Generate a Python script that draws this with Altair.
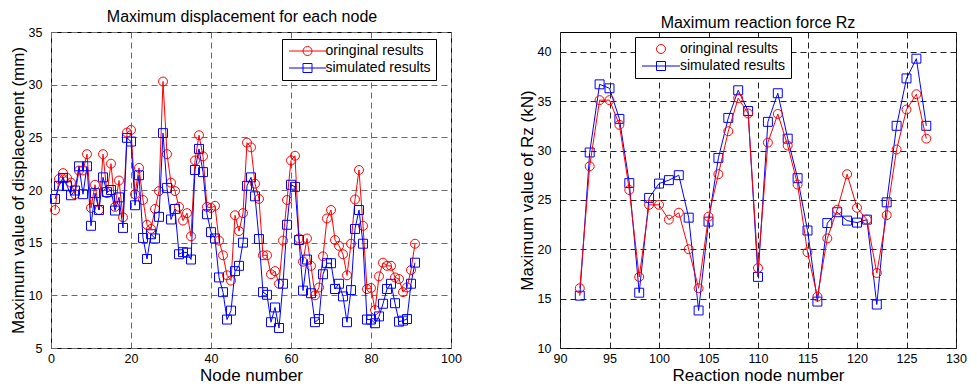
import altair as alt
import pandas as pd

FONT = "Liberation Sans"
RED = "#ff0000"
BLUE = "#0000ff"
SERIES = ["oringinal results", "simulated results"]

# ---- left panel data: maximum displacement per node ----
disp_nodes = list(range(1, 92))
disp_original = [
    18.1, 21.05, 21.6, 21.15, 20.7, 19.6, 21.85, 21.85, 23.4, 18.3,
    20.5, 18.1, 23.4, 19.7, 22.5, 18.4, 20.9, 17.4, 25.45, 25.7,
    19.6, 22.1, 19.05, 16.7, 16.3, 18.2, 19.9, 30.3, 23.4, 20.7,
    19.9, 18.4, 17.1, 17.8, 15.6, 22.8, 25.2, 23.2, 18.4, 18.3,
    18.5, 15.2, 13.8, 11.9, 11.4, 17.6, 16.1, 17.8, 24.5, 24.05,
    20.6, 19.15, 13.8, 13.8, 12.0, 12.3, 11.1, 15.2, 19.05, 22.8,
    23.25, 15.4, 13.2, 15.4, 12.8, 10.0, 10.75, 13.7, 17.3, 18.1,
    15.25, 14.7, 13.9, 11.9, 14.9, 19.1, 21.9, 16.6, 10.6, 10.7,
    8.6, 11.8, 13.1, 12.8, 12.8, 11.7, 11.55, 10.3, 10.75, 12.4,
    14.9,
]
disp_simulated = [
    19.15, 20.4, 21.15, 20.4, 19.5, 19.95, 22.25, 19.6, 22.25, 16.6,
    19.7, 18.1, 21.2, 19.8, 20.0, 18.05, 19.3, 16.4, 24.95, 24.6,
    18.55, 21.4, 15.45, 13.45, 15.8, 15.4, 17.45, 25.4, 20.2, 17.2,
    18.2, 13.9, 14.1, 14.05, 13.4, 21.9, 23.9, 21.7, 17.7, 16.0,
    15.4, 11.7, 10.3, 7.7, 8.55, 12.3, 12.8, 15.0, 20.4, 21.2,
    19.4, 15.35, 10.3, 10.05, 7.45, 8.85, 6.9, 11.1, 16.7, 20.5,
    20.3, 15.25, 10.45, 13.4, 10.2, 7.45, 7.75, 12.0, 13.05, 13.05,
    10.6, 11.1, 9.9, 7.45, 10.5, 16.3, 18.1, 14.9, 7.7, 7.7,
    7.35, 8.0, 9.2, 10.6, 11.1, 9.25, 7.5, 7.6, 7.75, 11.1,
    13.1,
]

# ---- right panel data: maximum reaction force Rz ----
rz_nodes = list(range(92, 128))
rz_original = [
    16.05, 28.4, 35.1, 35.1, 32.6, 26.0, 17.2, 24.5, 24.5, 23.0,
    23.7, 20.0, 16.05, 23.3, 27.6, 31.95, 35.3, 33.75, 18.1, 30.8,
    33.7, 30.5, 26.55, 19.7, 15.2, 21.1, 24.0, 27.6, 24.2, 23.0,
    17.6, 23.45, 30.1, 34.15, 35.7, 31.2,
]
rz_simulated = [
    15.3, 29.8, 36.7, 36.3, 33.2, 26.7, 15.6, 25.2, 26.65, 27.0,
    27.5, 23.2, 13.8, 22.8, 29.25, 33.3, 36.1, 34.0, 17.2, 32.9,
    35.8, 31.2, 27.2, 21.9, 14.7, 22.65, 23.75, 22.9, 22.7, 23.0,
    14.4, 24.75, 32.5, 37.3, 39.3, 32.5,
]

# legend symbol paths (unit box scaled by sqrt(symbolSize)/2)
CIRCLE = "M0.9,0A0.9,0.9,0,1,1,-0.9,0A0.9,0.9,0,1,1,0.9,0"
SQUARE = "M-0.9,-0.9H0.9V0.9H-0.9Z"
LINE = "M-3.7,0H3.7"


def axis(values, title, label_pad, title_pad, grid_color):
    return alt.Axis(
        values=values, title=title, grid=True, gridColor=grid_color,
        gridDash=[6, 4], gridWidth=1, ticks=False, domain=False,
        labelFont=FONT, labelFontSize=12.5, labelColor="black",
        labelPadding=label_pad, labelFlush=False, labelOverlap=False,
        titleFont=FONT, titleFontSize=17, titleFontWeight="normal",
        titleColor="black", titlePadding=title_pad,
    )


def panel(nodes, orig, sim, xdom, xticks, ydom, yticks, title, xtitle, ytitle,
          grid_color, paths, legend_kw, red_on_top, title_dx, width):
    df = pd.DataFrame({"node": nodes, "orig": orig, "sim": sim})
    base = alt.Chart(df)
    x = alt.X("node:Q", scale=alt.Scale(domain=xdom, nice=False, zero=False),
              axis=axis(xticks, xtitle, 4, 3, grid_color))

    def ych(field):
        return alt.Y(f"{field}:Q", scale=alt.Scale(domain=ydom, nice=False, zero=False),
                     axis=axis(yticks, ytitle, 9, 1, grid_color))

    red = [
        base.mark_line(color=RED, strokeWidth=1).encode(x=x, y=ych("orig")),
        base.mark_point(shape="circle", color=RED, filled=False, size=80,
                        strokeWidth=1, opacity=1).encode(x=x, y=ych("orig")),
    ]
    blue = [
        base.mark_line(color=BLUE, strokeWidth=1).encode(x=x, y=ych("sim")),
        base.mark_point(shape="square", color=BLUE, filled=False, size=80,
                        strokeWidth=1, opacity=1).encode(x=x, y=ych("sim")),
    ]
    leg = alt.Legend(title=None, orient="none", fillColor="white",
                     strokeColor="black", symbolSize=100, symbolStrokeWidth=1,
                     labelFont=FONT, labelFontSize=14, labelColor="black",
                     rowPadding=3, **legend_kw)
    legend_layer = (
        alt.Chart(pd.DataFrame({"series": SERIES}))
        .transform_filter("false")
        .mark_point(filled=False, opacity=1, strokeWidth=1)
        .encode(
            color=alt.Color("series:N", scale=alt.Scale(domain=SERIES, range=[RED, BLUE]), legend=leg),
            shape=alt.Shape("series:N", scale=alt.Scale(domain=SERIES, range=paths), legend=leg),
        )
    )
    layers = (blue + red) if red_on_top else (red + blue)
    return alt.layer(*layers, legend_layer).properties(
        width=width, height=316,
        title=alt.TitleParams(text=title, font=FONT, fontSize=16, fontWeight="normal",
                              color="black", offset=1, dx=title_dx, anchor="middle"),
    )


left = panel(
    disp_nodes, disp_original, disp_simulated, [0, 100], list(range(0, 101, 20)),
    [5, 35], list(range(5, 36, 5)), "Maximum displacement for each node",
    "Node number", "Maximum value of displacement (mm)", "#6a6a6a",
    [LINE + CIRCLE, LINE + SQUARE],
    dict(legendX=231, legendY=7, padding=5, symbolOffset=13.5, labelOffset=11),
    False, -9, 400,
)
right = panel(
    rz_nodes, rz_original, rz_simulated, [90, 130], list(range(90, 131, 5)),
    [10, 42], list(range(10, 41, 5)), "Maximum reaction force Rz",
    "Reaction node number", "Maximum value of Rz (kN)", "#222222",
    [CIRCLE, "M-3.8,0H3.8" + SQUARE],
    dict(legendX=75, legendY=5, padding=5, symbolOffset=14, labelOffset=12),
    True, 0, 396,
)

chart = (
    alt.hconcat(left, right, spacing=109, bounds="flush")
    .resolve_scale(color="independent", shape="independent")
    .resolve_legend(color="independent", shape="independent")
    .properties(padding={"left": 0, "top": 0, "right": 0, "bottom": 0})
    .configure_view(stroke="black", strokeWidth=1)
)

chart.save("out.html", embed_options={"renderer": "svg", "actions": False})
